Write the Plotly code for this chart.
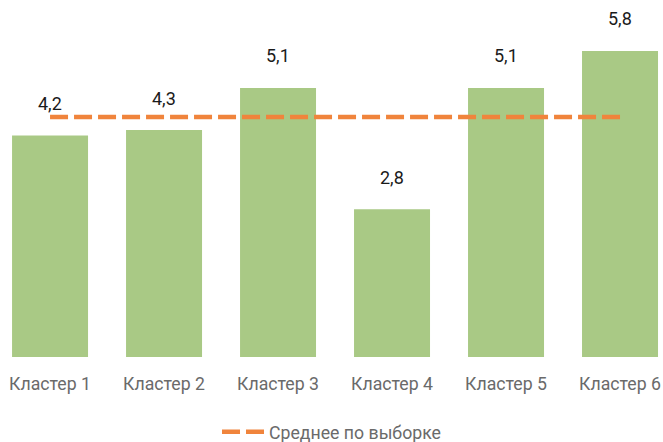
import plotly.graph_objects as go

categories = ["Кластер 1", "Кластер 2", "Кластер 3", "Кластер 4", "Кластер 5", "Кластер 6"]
values = [4.2, 4.3, 5.1, 2.8, 5.1, 5.8]
mean_label = "Среднее по выборке"
mean_value = sum(values) / len(values)

labels = [f"{v:.1f}".replace(".", ",") for v in values]

fig = go.Figure()
fig.add_trace(go.Bar(
    x=categories, y=values, marker=dict(color="#A9C985", line=dict(width=0)),
    showlegend=False, hoverinfo="skip",
))
fig.add_trace(go.Scatter(
    x=categories, y=[mean_value] * len(categories), mode="lines",
    line=dict(color="#F0843C", width=4.5, dash="18px,6px"),
    name=mean_label, hoverinfo="skip",
))
for c, v, t in zip(categories, values, labels):
    fig.add_annotation(x=c, y=v, text=t, showarrow=False, yshift=32,
                       font=dict(family="Roboto", size=18, color="#1a1a1a"))

fig.update_layout(
    width=663, height=442,
    margin=dict(l=0, r=0, t=0, b=85, autoexpand=False),
    paper_bgcolor="white", plot_bgcolor="white",
    bargap=1/3,
    font=dict(family="Roboto", size=17.7, color="#6a6a6a"),
    xaxis=dict(range=[-0.439, 5.377], showgrid=False, zeroline=False, showline=False,
               ticks="", automargin=False, ticklabelstandoff=14,
               tickfont=dict(size=17.7, color="#6a6a6a")),
    yaxis=dict(range=[0, 6.766], visible=False, automargin=False),
    legend=dict(orientation="h", x=0.5, xanchor="center", yref="container",
                y=0.022, yanchor="middle", itemwidth=42,
                font=dict(size=17.7, color="#6a6a6a")),
)
fig.write_html(
    "out.html",
    config={"displayModeBar": False},
    post_script="document.body.style.margin='0';document.body.style.overflow='hidden';",
)
